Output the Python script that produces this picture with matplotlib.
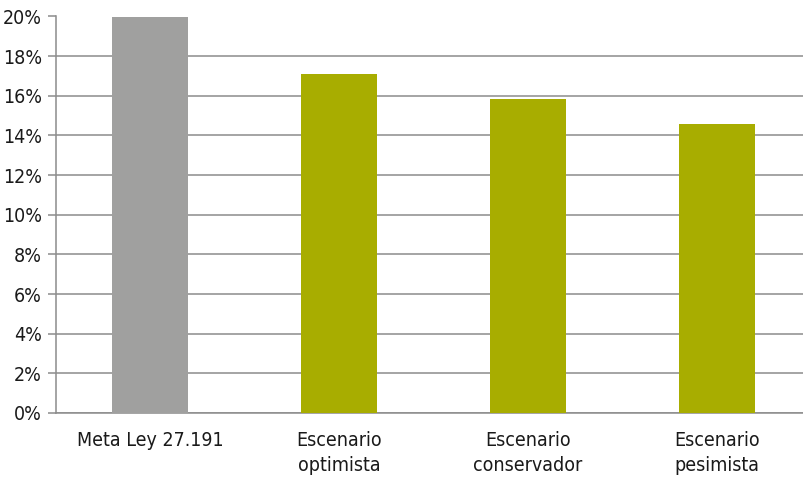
import matplotlib
matplotlib.use("Agg")
import matplotlib.pyplot as plt
from matplotlib.ticker import FuncFormatter

categories = ["Meta Ley 27.191", "Escenario\noptimista", "Escenario\nconservador", "Escenario\npesimista"]
values = [20.0, 17.08, 15.83, 14.57]
colors = ["#A0A09F", "#A8AD00", "#A8AD00", "#A8AD00"]
yticks = [0, 2, 4, 6, 8, 10, 12, 14, 16, 18, 20]

plt.rcParams['font.family'] = ['DejaVu Sans']
plt.rcParams['font.stretch'] = 'condensed'

fig = plt.figure(figsize=(8.04, 4.78), dpi=100)
ax = fig.add_axes([56/804, 1 - 413/478, (804-56)/804, (413-16.5)/478])

ax.set_axisbelow(True)
ax.yaxis.grid(True, color="#8C8C8C", linewidth=1.1)
x = range(len(categories))
ax.bar(x, values, width=0.40, color=colors, zorder=3)

ax.set_xlim(-0.497, 3.46)
ax.set_ylim(0, 20)
ax.set_yticks(yticks)
ax.yaxis.set_major_formatter(FuncFormatter(lambda v, p: f"{int(v)}%"))
ax.set_xticks(list(x))
ax.set_xticklabels(categories, fontsize=14, linespacing=1.4, color="#1a1a1a")
ax.tick_params(axis='y', labelsize=14, length=6, width=1.1, color="#8C8C8C", labelcolor="#1a1a1a", pad=4)
ax.tick_params(axis='x', length=0, pad=13)

for s in ["top", "right"]:
    ax.spines[s].set_visible(False)
for s in ["left", "bottom"]:
    ax.spines[s].set_color("#8C8C8C")
    ax.spines[s].set_linewidth(1.1)

fig.savefig("out.png", dpi=100)
